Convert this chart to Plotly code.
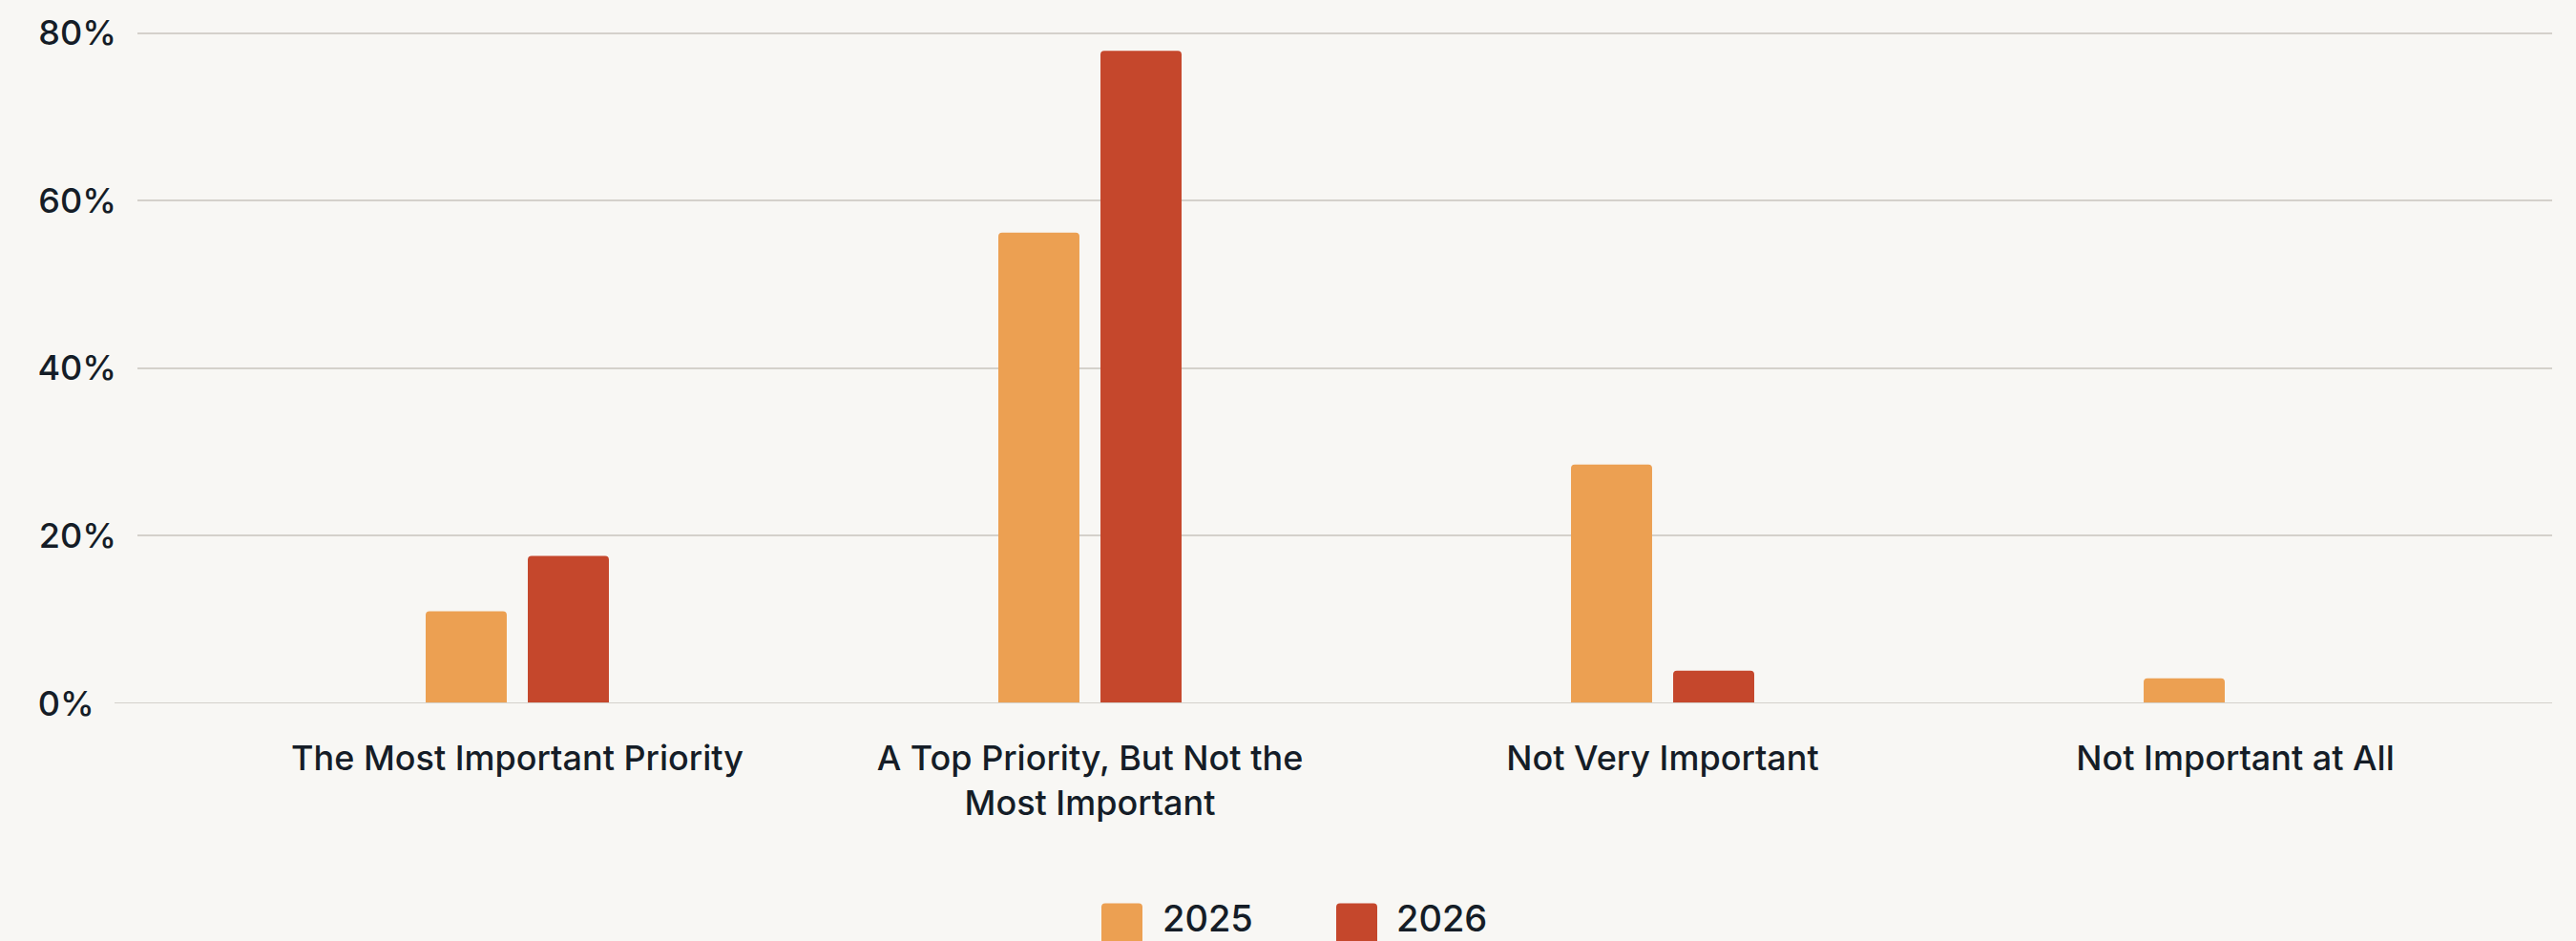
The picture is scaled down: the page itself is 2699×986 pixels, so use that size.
import plotly.graph_objects as go

# Survey responses: share of respondents per priority level
categories = [
    "The Most Important Priority",
    "A Top Priority, But Not the Most Important",
    "Not Very Important",
    "Not Important at All",
]
series_names = ["2025", "2026"]
values_2025 = [11.0, 56.2, 28.5, 3.0]
values_2026 = [17.6, 77.9, 3.9, 0.0]
y_tick_values = [0, 20, 40, 60, 80]

# Styling
BG = "#f8f7f4"
GRID = "#d4d1cb"
TEXT = "#151d27"
COLORS = ["#eca052", "#c5472c"]
FONT = "Inter"

W, H = 2699, 986
M_L, M_R, M_T, M_B = 144, 25, 31, 249
PW = W - M_L - M_R
PH = H - M_T - M_B


def px_x(px):
    return (px - M_L) / PW


def px_y(py):
    return (H - M_B - py) / PH


# Category tick text with the long label split over two lines
tick_text = [c.replace("But Not the ", "But Not the<br>") for c in categories]
y_tick_text = [f"{v}%" + ("\u2007" if v < 10 else "") for v in y_tick_values]

fig = go.Figure()
for name, vals, color in zip(series_names, [values_2025, values_2026], COLORS):
    fig.add_trace(go.Bar(
        x=list(range(len(categories))),
        y=vals,
        name=name,
        marker=dict(color=color, line=dict(width=0)),
        showlegend=False,
        hoverinfo="skip",
    ))

shapes = []
# Baseline extends slightly past the gridlines on the left
shapes.append(dict(
    type="line", xref="paper", yref="y",
    x0=px_x(120), x1=1, y0=0, y1=0,
    line=dict(color=GRID, width=2), layer="above",
))


def rounded_square(x0, y0, size, r):
    # Rounded square laid out in pixels, converted to paper coordinates
    x1, y1 = x0 + size, y0 + size

    def P(x, y):
        return f"{px_x(x):.6f},{px_y(y):.6f}"
    return (
        f"M{P(x0 + r, y0)} L{P(x1 - r, y0)} Q{P(x1, y0)} {P(x1, y0 + r)} "
        f"L{P(x1, y1 - r)} Q{P(x1, y1)} {P(x1 - r, y1)} "
        f"L{P(x0 + r, y1)} Q{P(x0, y1)} {P(x0, y1 - r)} "
        f"L{P(x0, y0 + r)} Q{P(x0, y0)} {P(x0 + r, y0)} Z"
    )


annotations = []
legend_items = [(1154, 1216), (1400, 1461)]
for (sx, tx), name, color in zip(legend_items, series_names, COLORS):
    shapes.append(dict(
        type="path", xref="paper", yref="paper",
        path=rounded_square(sx, 947, 43, 4),
        fillcolor=color, line=dict(width=0), layer="above",
    ))
    annotations.append(dict(
        xref="paper", yref="paper", x=px_x(tx), y=px_y(963),
        text=name, showarrow=False, xanchor="left", yanchor="middle",
        font=dict(family=FONT, size=38, color=TEXT, weight=500),
    ))

label_font = dict(family=FONT, size=36, color=TEXT, weight=500)

fig.update_layout(
    width=W, height=H,
    margin=dict(l=M_L, r=M_R, t=M_T, b=M_B, pad=0),
    paper_bgcolor=BG, plot_bgcolor=BG,
    barmode="group",
    bargap=0.6433,
    bargroupgap=0.206,
    barcornerradius=4,
    font=dict(family=FONT, color=TEXT, size=36),
    shapes=shapes,
    annotations=annotations,
    showlegend=False,
)
fig.update_xaxes(
    range=[-0.6633, 3.5533],
    tickvals=list(range(len(categories))),
    ticktext=tick_text,
    showgrid=False, zeroline=False, showline=False,
    ticks="", ticklabelstandoff=33,
    tickfont=label_font,
)
fig.update_yaxes(
    range=[0, 80.2],
    tickvals=y_tick_values,
    ticktext=y_tick_text,
    showgrid=True, gridcolor=GRID, gridwidth=2,
    zeroline=False, showline=False,
    ticks="", ticklabelstandoff=21,
    tickfont=label_font,
)

fig.write_html("out.html")
